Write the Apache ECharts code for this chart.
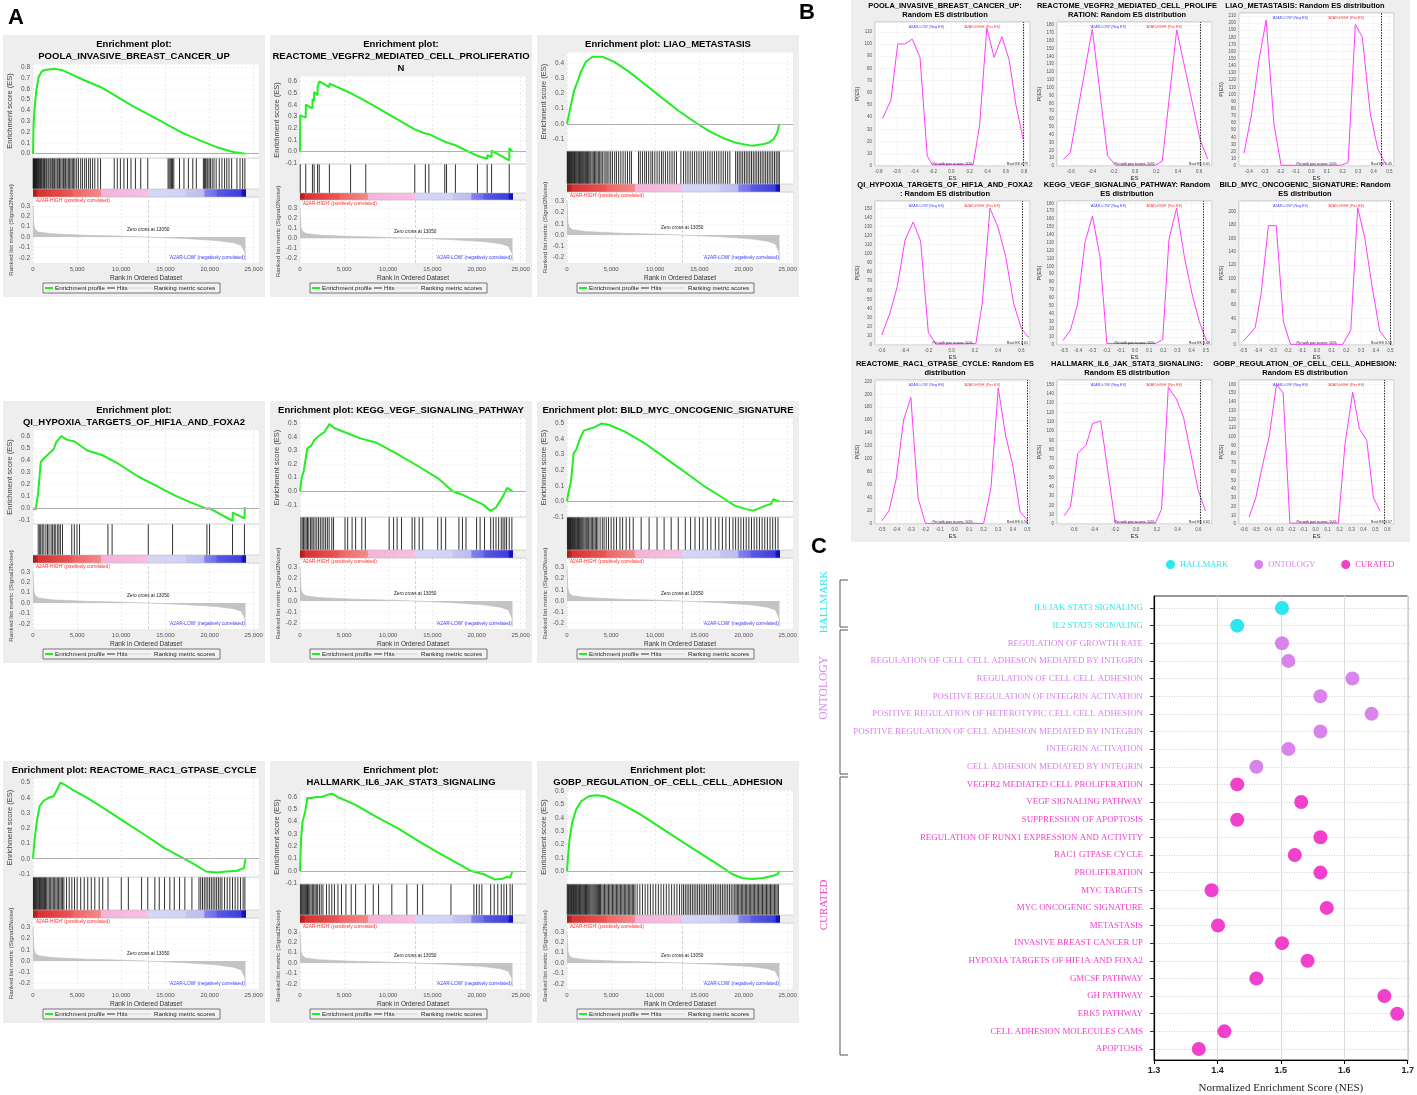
<!DOCTYPE html>
<html>
<head>
<meta charset="utf-8">
<script src="https://cdn.jsdelivr.net/npm/echarts@6/dist/echarts.min.js"></script>
<style>
html,body{margin:0;padding:0;background:#fff;}
#main{width:1417px;height:1095px;}
</style>
</head>
<body>
<div id="main"></div>
<script>
// ---------- panel A : enrichment plots (ranks, ES) ----------
const esPoola = [[0,0],[70,0.28],[190,0.43],[370,0.585],[640,0.71],[1000,0.763],[1380,0.775],[1750,0.78],[2500,0.785],[3250,0.775],[4000,0.748],[5870,0.677],[7700,0.615],[9600,0.523],[11500,0.43],[13300,0.354],[15200,0.268],[17100,0.185],[18900,0.123],[20800,0.06],[22700,0.015],[24070,0]];
const esVegfr2 = [[0,0],[30,0.31],[650,0.29],[660,0.40],[1410,0.37],[1420,0.45],[1600,0.43],[1610,0.51],[1990,0.48],[2000,0.55],[2180,0.54],[2190,0.60],[3330,0.55],[3340,0.58],[5730,0.50],[5740,0.505],[7450,0.43],[7460,0.44],[13000,0.19],[14200,0.155],[14210,0.165],[14600,0.15],[14610,0.16],[16400,0.085],[16410,0.09],[16600,0.085],[16610,0.09],[17600,0.055],[17610,0.06],[20100,-0.035],[20110,-0.02],[21200,-0.06],[21210,-0.03],[21700,-0.045],[21710,0.01],[23700,-0.075],[23710,0.03],[24070,0]];
const esLiao = [[0,0],[260,0.072],[530,0.149],[830,0.225],[1200,0.28],[1580,0.345],[2150,0.41],[2900,0.444],[4000,0.444],[5350,0.41],[7000,0.345],[8900,0.258],[10800,0.17],[12700,0.083],[14600,0.007],[16100,-0.048],[17600,-0.092],[19100,-0.125],[21000,-0.146],[22100,-0.136],[22850,-0.125],[23400,-0.103],[23800,-0.059],[24060,0]];
const esHypoxia = [[0,0],[300,-0.01],[590,0.133],[880,0.383],[1170,0.41],[1760,0.45],[2340,0.49],[2630,0.55],[3200,0.6],[3800,0.57],[4700,0.555],[6150,0.48],[7900,0.44],[9660,0.37],[12000,0.26],[13760,0.194],[16100,0.105],[17860,0.05],[19700,-0.005],[20000,0.0],[22600,-0.103],[22630,-0.035],[23950,-0.083],[24000,0.01]];
const esKegg = [[0,0],[180,0.097],[410,0.145],[590,0.217],[820,0.314],[1290,0.338],[1580,0.374],[2170,0.41],[2750,0.435],[3340,0.495],[3920,0.464],[5090,0.435],[6850,0.39],[8600,0.36],[10950,0.278],[13300,0.188],[15600,0.097],[17300,0.0],[18200,-0.02],[19500,-0.06],[20700,-0.097],[21600,-0.145],[22200,-0.12],[23000,-0.036],[23450,0.024],[24070,0.0]];
const esBild = [[0,0],[170,0.056],[460,0.13],[750,0.31],[1040,0.33],[1450,0.40],[1910,0.454],[2490,0.464],[3070,0.475],[3940,0.5],[4810,0.49],[6550,0.448],[8870,0.37],[11200,0.276],[13500,0.182],[15800,0.088],[17600,0.025],[19000,-0.027],[20200,-0.048],[21050,-0.059],[21600,-0.048],[22500,-0.027],[23100,-0.017],[23400,0.015],[23800,0.004],[24070,0.0]];
const esRac1 = [[0,0],[180,0.126],[410,0.236],[760,0.346],[1170,0.379],[1760,0.40],[2340,0.41],[2750,0.456],[3100,0.5],[3500,0.489],[4400,0.456],[6150,0.40],[7900,0.335],[10250,0.247],[12600,0.159],[14900,0.07],[17000,0.004],[18400,-0.04],[19600,-0.084],[20800,-0.09],[21950,-0.084],[23100,-0.079],[23900,-0.062],[24070,0.004]];
const esIl6 = [[0,0],[120,0.26],[290,0.4],[590,0.48],[820,0.59],[1290,0.59],[1870,0.598],[2460,0.598],[3040,0.614],[3630,0.625],[4500,0.59],[6260,0.537],[8600,0.44],[10950,0.35],[13300,0.248],[15600,0.15],[18000,0.055],[19400,0.0],[20900,-0.028],[22100,-0.069],[22950,-0.063],[23400,-0.047],[23800,-0.055],[24070,0.0]];
const esGobp = [[0,0],[120,0.117],[290,0.24],[580,0.365],[1040,0.464],[1620,0.526],[2490,0.563],[3360,0.57],[4230,0.563],[5970,0.514],[8300,0.427],[10600,0.328],[12900,0.228],[15250,0.129],[17600,0.03],[18700,-0.02],[19900,-0.052],[21050,-0.057],[22200,-0.05],[23400,-0.032],[23900,-0.02],[24070,0.005]];

// hit positions, thousands of ranks
const hitsPoola = [0.02,0.06,0.1,0.14,0.18,0.22,0.27,0.32,0.37,0.42,0.48,0.55,0.62,0.7,0.78,0.86,0.95,1.05,1.2,1.3,1.45,1.55,1.7,1.8,1.95,2.05,2.2,2.35,2.45,2.6,2.75,2.85,3.0,3.15,3.3,3.45,3.6,3.7,3.85,4.0,4.15,4.3,4.45,4.6,4.75,4.95,5.15,5.4,5.6,5.85,6.05,6.3,6.5,6.75,7.0,7.35,7.65,9.2,9.55,9.9,10.3,10.7,11.1,11.6,12.2,13.0,15.3,15.42,15.55,15.68,15.8,15.95,16.6,17.1,17.6,18.1,18.5,19.3,19.42,19.55,19.7,19.8,19.95,20.1,20.3,20.5,20.75,21.1,21.4,21.7,21.95,22.2,22.5,23.1,23.45,23.75,24.0];
const hitsVegfr2 = [0.03,0.65,1.41,1.6,1.99,2.18,3.33,5.73,7.45,13.0,14.2,14.6,16.4,16.6,17.6,20.1,21.2,21.7,23.7];
const hitsLiao = [0.03,0.08,0.13,0.19,0.25,0.31,0.38,0.45,0.52,0.6,0.68,0.76,0.85,0.94,1.03,1.12,1.22,1.32,1.42,1.52,1.63,1.74,1.85,1.96,2.08,2.2,2.32,2.45,2.58,2.7,2.84,2.98,3.12,3.26,3.4,3.55,3.7,3.85,4.0,4.2,4.4,4.55,4.75,4.95,5.15,5.4,5.6,5.85,6.1,6.35,6.6,6.85,7.1,7.3,8.1,8.3,8.55,8.8,9.0,9.25,9.5,9.7,9.95,10.2,10.45,10.7,10.9,11.15,11.4,11.65,11.9,12.15,12.4,12.9,13.2,13.45,13.7,13.95,14.2,14.45,14.7,14.95,15.2,15.45,15.7,15.95,16.2,16.45,16.7,16.95,17.2,17.45,17.7,17.95,18.2,18.45,19.1,19.3,19.5,19.7,19.9,20.1,20.3,20.5,20.7,20.9,21.1,21.3,21.5,21.7,21.9,22.1,22.3,22.5,22.7,22.9,23.1,23.3,23.5,23.7,23.9,24.05];
const hitsHypoxia = [0.59,0.76,0.88,1.05,1.23,1.46,1.64,1.81,2.05,2.22,2.4,2.52,2.75,2.93,3.1,3.34,4.39,4.68,4.98,5.27,8.49,8.96,13.06,15.81,19.7,20.0,22.6,23.95];
const hitsKegg = [0.1,0.25,0.4,0.55,0.7,0.85,1.0,1.2,1.35,1.5,1.7,1.9,2.1,2.3,2.5,2.7,2.9,3.1,3.3,3.6,3.8,5.1,5.4,5.9,6.3,7.0,7.4,10.1,10.6,11.0,11.5,12.7,13.0,13.5,13.9,15.6,16.0,16.5,18.0,18.4,18.8,20.0,20.4,20.9,21.6,21.9,22.2,22.5,22.8,23.0,23.2,23.4,23.7,24.0];
const hitsBild = [0.05,0.1,0.16,0.22,0.28,0.34,0.4,0.47,0.54,0.61,0.68,0.76,0.84,0.92,1.0,1.1,1.2,1.3,1.4,1.5,1.6,1.7,1.8,1.92,2.05,2.18,2.3,2.45,2.6,2.75,2.9,3.05,3.2,3.35,3.5,3.75,4.0,4.2,4.45,4.7,5.0,5.3,5.6,6.0,6.3,6.7,7.1,7.5,8.4,9.3,10.2,11.0,11.8,12.6,13.4,14.0,14.5,15.0,15.4,15.9,16.3,16.8,17.2,17.6,18.0,18.4,18.8,19.1,19.4,19.7,20.0,20.3,20.6,20.9,21.2,21.5,21.8,22.1,22.4,22.7,23.0,23.3,23.6,23.9];
const hitsRac1 = [0.05,0.1,0.16,0.22,0.3,0.38,0.46,0.55,0.64,0.74,0.84,0.95,1.06,1.18,1.3,1.42,1.55,1.7,1.85,2.0,2.15,2.3,2.45,2.6,2.75,2.9,3.05,3.2,3.35,3.5,3.8,4.1,4.4,4.7,5.0,5.4,5.8,6.2,6.6,7.0,7.5,7.9,8.5,10.0,10.8,12.3,13.0,13.8,14.3,14.9,15.5,16.0,16.6,17.2,18.0,18.8,19.0,19.2,19.4,19.6,19.8,20.0,20.2,20.4,20.6,20.8,21.0,21.2,21.4,21.7,22.0,22.3,22.6,22.9,23.2,23.5,23.8,24.0];
const hitsIl6 = [0.05,0.15,0.25,0.35,0.45,0.55,0.65,0.75,0.85,0.95,1.1,1.25,1.4,1.55,1.7,1.85,2.0,2.2,2.4,2.6,3.0,3.3,3.6,3.9,4.3,4.7,5.2,5.8,6.3,7.4,8.3,8.9,10.4,12.1,13.3,13.9,17.1,19.7,20.0,20.3,20.6,21.6,22.0,22.4,22.8,23.1,23.4,23.8,24.05];
const hitsGobp = [0.03,0.1,0.18,0.26,0.34,0.42,0.5,0.58,0.66,0.74,0.82,0.9,0.98,1.06,1.15,1.24,1.33,1.42,1.51,1.6,1.7,1.8,1.9,2.0,2.1,2.2,2.3,2.4,2.5,2.6,2.72,2.84,2.96,3.08,3.2,3.32,3.44,3.56,3.68,3.8,3.95,4.1,4.25,4.4,4.55,4.7,4.85,5.0,5.15,5.3,5.45,5.6,5.75,5.9,6.05,6.2,6.35,6.5,6.65,6.8,6.95,7.1,7.25,7.4,7.55,7.7,7.95,8.25,8.55,8.85,9.15,9.45,9.75,10.05,10.35,10.65,10.95,11.25,11.55,11.85,12.15,12.45,12.75,13.0,13.2,13.4,13.6,13.8,14.0,14.2,14.4,14.6,14.8,15.0,15.2,15.4,15.6,15.8,16.0,16.2,16.4,16.6,16.8,17.0,17.2,17.4,17.6,17.8,18.0,18.2,18.4,18.6,18.8,19.0,19.15,19.3,19.45,19.6,19.75,19.9,20.05,20.2,20.35,20.5,20.65,20.8,20.95,21.1,21.25,21.4,21.55,21.7,21.85,22.0,22.15,22.3,22.45,22.6,22.75,22.9,23.05,23.2,23.35,23.5,23.65,23.8,23.95];

// ranked list metric (shared by all plots) and heat bar breaks
const metricScores = [[0,0.3],[30,0.24],[110,0.11],[260,0.07],[640,0.048],[2130,0.031],[5870,0.017],[9600,0.009],[13050,0],[17100,-0.014],[20800,-0.034],[22700,-0.055],[23600,-0.08],[24000,-0.15],[24070,-0.23]];
const barStops = [0, 600, 4500, 7700, 13050, 17300, 19400, 20800, 23600, 24070];
const zeroCross = 13050;
const rankTicks = [0, 5000, 10000, 15000, 20000, 25000];

const titlesA = [
  ['Enrichment plot:', 'POOLA_INVASIVE_BREAST_CANCER_UP'],
  ['Enrichment plot:', 'REACTOME_VEGFR2_MEDIATED_CELL_PROLIFERATIO', 'N'],
  ['Enrichment plot: LIAO_METASTASIS'],
  ['Enrichment plot:', 'QI_HYPOXIA_TARGETS_OF_HIF1A_AND_FOXA2'],
  ['Enrichment plot: KEGG_VEGF_SIGNALING_PATHWAY'],
  ['Enrichment plot: BILD_MYC_ONCOGENIC_SIGNATURE'],
  ['Enrichment plot: REACTOME_RAC1_GTPASE_CYCLE'],
  ['Enrichment plot:', 'HALLMARK_IL6_JAK_STAT3_SIGNALING'],
  ['Enrichment plot:', 'GOBP_REGULATION_OF_CELL_CELL_ADHESION']
];
const esCurves = [esPoola, esVegfr2, esLiao, esHypoxia, esKegg, esBild, esRac1, esIl6, esGobp];
const hitLists = [hitsPoola, hitsVegfr2, hitsLiao, hitsHypoxia, hitsKegg, hitsBild, hitsRac1, hitsIl6, hitsGobp];
const esMin = [-0.04, -0.105, -0.18, -0.13, -0.19, -0.10, -0.12, -0.105, -0.095];
const esMax = [0.83, 0.645, 0.475, 0.65, 0.54, 0.535, 0.53, 0.655, 0.61];

// ---------- panel B : random ES distributions (ES, P(ES)) ----------
const nullPoola = [[-0.756,39],[-0.665,54],[-0.59,100],[-0.51,100],[-0.43,104],[-0.345,89],[-0.265,8],[-0.21,1],[0.24,1],[0.31,33],[0.39,113],[0.47,89],[0.556,106],[0.636,87],[0.71,50],[0.79,22]];
const nullVegfr2 = [[-0.67,8.5],[-0.606,17],[-0.40,175],[-0.257,13],[-0.18,1],[0.19,1],[0.255,6],[0.39,174],[0.61,33],[0.68,9]];
const nullLiao = [[-0.432,18],[-0.383,73],[-0.336,148],[-0.29,204],[-0.24,59],[-0.194,1],[0.193,1],[0.236,5],[0.282,198],[0.327,180],[0.378,73],[0.426,24],[0.475,3]];
const nullHypoxia = [[-0.6,11],[-0.53,35],[-0.465,65],[-0.4,115],[-0.33,135],[-0.266,114],[-0.2,14],[-0.135,1],[0.209,1.5],[0.263,45],[0.33,150],[0.40,129],[0.465,97],[0.535,45],[0.6,18],[0.664,8]];
const nullKegg = [[-0.507,6],[-0.455,19],[-0.405,52],[-0.353,130],[-0.3,164],[-0.247,113],[-0.198,2],[0.15,2],[0.196,7],[0.24,134],[0.294,174],[0.35,111],[0.402,66],[0.454,30],[0.505,5]];
const nullBild = [[-0.5,6],[-0.42,26],[-0.38,76],[-0.33,179],[-0.277,179],[-0.228,35],[-0.18,1],[0.175,1],[0.23,22],[0.277,206],[0.325,161],[0.374,89],[0.427,21],[0.476,7]];
const nullRac1 = [[-0.5,5],[-0.45,20],[-0.4,70],[-0.35,160],[-0.3,195],[-0.25,40],[-0.2,1],[0.2,1],[0.25,56],[0.3,210],[0.35,137],[0.4,90],[0.45,19],[0.5,6]];
const nullIl6 = [[-0.69,9],[-0.63,19],[-0.56,76],[-0.48,85],[-0.418,108],[-0.34,111],[-0.27,56],[-0.2,1],[0.186,1],[0.245,16],[0.31,147],[0.386,135],[0.456,115],[0.526,76],[0.596,37],[0.667,14]];
const nullGobp = [[-0.555,8],[-0.5,30],[-0.444,67],[-0.388,100],[-0.327,160],[-0.271,150],[-0.215,1],[0.19,1],[0.246,92],[0.31,151],[0.366,109],[0.427,96],[0.483,30],[0.539,15]];

const titlesB = [
  ['POOLA_INVASIVE_BREAST_CANCER_UP:', 'Random ES distribution'],
  ['REACTOME_VEGFR2_MEDIATED_CELL_PROLIFE', 'RATION: Random ES distribution'],
  ['LIAO_METASTASIS: Random ES distribution'],
  ['QI_HYPOXIA_TARGETS_OF_HIF1A_AND_FOXA2', ': Random ES distribution'],
  ['KEGG_VEGF_SIGNALING_PATHWAY: Random', 'ES distribution'],
  ['BILD_MYC_ONCOGENIC_SIGNATURE: Random', 'ES distribution'],
  ['REACTOME_RAC1_GTPASE_CYCLE: Random ES', 'distribution'],
  ['HALLMARK_IL6_JAK_STAT3_SIGNALING:', 'Random ES distribution'],
  ['GOBP_REGULATION_OF_CELL_CELL_ADHESION:', 'Random ES distribution']
];
const nullCurves = [nullPoola, nullVegfr2, nullLiao, nullHypoxia, nullKegg, nullBild, nullRac1, nullIl6, nullGobp];
const realEs = [0.79, 0.615, 0.453, 0.61, 0.48, 0.5, 0.497, 0.624, 0.573];
const nullXMin = [-0.84, -0.73, -0.464, -0.658, -0.55, -0.53, -0.546, -0.76, -0.64];
const nullXMax = [0.865, 0.72, 0.53, 0.674, 0.544, 0.524, 0.518, 0.73, 0.655];
const nullXStep = [0.2, 0.2, 0.1, 0.2, 0.1, 0.1, 0.1, 0.2, 0.1];
const nullYMax = [118, 184, 214, 158, 183, 216, 222, 155, 165];
const nullYStep = [10, 10, 10, 10, 10, 20, 20, 10, 10];

// ---------- panel C : NES dot plot ----------
const cTerms = ['IL6 JAK STAT3 SIGNALING','IL2 STAT5 SIGNALING','REGULATION OF GROWTH RATE','REGULATION OF CELL CELL ADHESION MEDIATED BY INTEGRIN','REGULATION OF CELL CELL ADHESION','POSITIVE REGULATION OF INTEGRIN ACTIVATION','POSITIVE REGULATION OF HETEROTYPIC CELL CELL ADHESION','POSITIVE REGULATION OF CELL ADHESION MEDIATED BY INTEGRIN','INTEGRIN ACTIVATION','CELL ADHESION MEDIATED BY INTEGRIN','VEGFR2 MEDIATED CELL PROLIFERATION','VEGF SIGNALING PATHWAY','SUPPRESSION OF APOPTOSIS','REGULATION OF RUNX1 EXPRESSION AND ACTIVITY','RAC1 GTPASE CYCLE','PROLIFERATION','MYC TARGETS','MYC ONCOGENIC SIGNATURE','METASTASIS','INVASIVE BREAST CANCER UP','HYPOXIA TARGETS OF HIF1A AND FOXA2','GMCSF PATHWAY','GH PATHWAY','ERK5 PATHWAY','CELL ADHESION MOLECULES CAMS','APOPTOSIS'];
const cNes = [1.50,1.43,1.50,1.51,1.61,1.56,1.64,1.56,1.51,1.46,1.43,1.53,1.43,1.56,1.52,1.56,1.39,1.57,1.40,1.50,1.54,1.46,1.66,1.68,1.41,1.37];
const cGroup = ['HALLMARK','HALLMARK','ONTOLOGY','ONTOLOGY','ONTOLOGY','ONTOLOGY','ONTOLOGY','ONTOLOGY','ONTOLOGY','ONTOLOGY','CURATED','CURATED','CURATED','CURATED','CURATED','CURATED','CURATED','CURATED','CURATED','CURATED','CURATED','CURATED','CURATED','CURATED','CURATED','CURATED'];
const groupNames = ['HALLMARK', 'ONTOLOGY', 'CURATED'];
const nesTicks = [1.3, 1.4, 1.5, 1.6, 1.7];

// ---------- layout / style ----------
const SANS = '"Liberation Sans", Arial, sans-serif';
const SERIF = '"Liberation Serif", "Times New Roman", serif';
const A_COLS = [3, 270, 537];
const A_ROWS = [35, 401, 761];
const RANK_MAX = 25600;
const B_LEFT = [875, 1057, 1239];
const B_BOTTOM = [166, 345, 524];
const B_W = 155;
const GROUP_COLORS = {HALLMARK: '#2ee6ee', ONTOLOGY: '#d884ec', CURATED: '#f040cc'};
const BAR_COLORS = [['#a81818','#d02828'],['#d83030','#ec5858'],['#ee6464','#f38a8a'],['#f6b2da','#f7c0e2'],
  ['#d6d6f8','#d2d2f6'],['#c6c6f4','#bcbcf2'],['#8484ee','#6c6cec'],['#5a5ae6','#3c3cdc'],['#1818c8','#0c0cc0']];

const grids = [], xAxes = [], yAxes = [], series = [], gfx = [];

function isStep(v, s) { return Math.abs(v / s - Math.round(v / s)) < 1e-6; }
function addGrid(g, xa, ya) {
  const i = grids.length;
  grids.push(Object.assign({containLabel: false}, g));
  xAxes.push(Object.assign({gridIndex: i}, xa));
  yAxes.push(Object.assign({gridIndex: i}, ya));
  return i;
}
function txt(x, y, s, font, fill, align, extra) {
  gfx.push(Object.assign({type: 'text', x: x, y: y, z: 50, silent: true,
    style: {text: s, font: font, fill: fill, align: align || 'left', verticalAlign: 'middle'}}, extra || {}));
}
function hline(x1, y1, x2, y2, stroke, w, dash) {
  gfx.push({type: 'line', z: 50, silent: true, shape: {x1: x1, y1: y1, x2: x2, y2: y2},
    style: {stroke: stroke, lineWidth: w, lineDash: dash || null}});
}
const hidden = {show: false};
const noLine = {show: false, onZero: false};
const rankSplit = {show: true, lineStyle: {color: '#e2e2e2', width: 0.6, type: [2, 2]}};

function rankAxis(labels, split) {
  const a = {type: 'value', min: 0, max: RANK_MAX, interval: 5000,
    axisLine: noLine, axisTick: hidden, splitLine: split ? rankSplit : hidden, axisLabel: hidden};
  if (labels) {
    a.axisLabel = {show: true, margin: 3, color: '#555', fontFamily: SANS, fontSize: 6,
      formatter: v => rankTicks.indexOf(v) >= 0 ? v.toLocaleString('en-US') : ''};
    a.name = 'Rank in Ordered Dataset';
    a.nameLocation = 'middle';
    a.nameGap = 12;
    a.nameTextStyle = {color: '#333', fontFamily: SANS, fontSize: 6.5};
  }
  return a;
}
function tenthAxis(min, max, name, nameSize) {
  return {type: 'value', min: min, max: max, minInterval: 0.1, maxInterval: 0.1,
    axisLine: noLine, axisTick: hidden,
    splitLine: {show: true, lineStyle: {color: '#ececec', width: 0.6, type: [2, 2]}},
    axisLabel: {margin: 3, color: '#555', fontFamily: SANS, fontSize: 6.5,
      formatter: v => isStep(v, 0.1) ? (Math.round(v * 10) / 10).toFixed(1) : ''},
    name: name, nameLocation: 'middle', nameGap: 19,
    nameTextStyle: {color: '#444', fontFamily: SANS, fontSize: nameSize}};
}

// ---------- panel A ----------
function drawGsea(k) {
  const x0 = A_COLS[k % 3], y0 = A_ROWS[Math.floor(k / 3)];
  const title = titlesA[k], n = title.length;
  const left = x0 + 30, width = 226;
  const esTop = y0 + 5 + 12 * n, bottom = y0 + 228;
  const H = bottom - esTop;
  const esH = Math.round(H * 0.47), hitH = Math.round(H * 0.155), barH = Math.round(H * 0.04);
  const hitTop = esTop + esH, barTop = hitTop + hitH, metTop = barTop + barH, metH = bottom - metTop;
  const pxX = r => left + r / RANK_MAX * width;
  const metMin = -0.25, metMax = 0.385;
  const pxMet = v => metTop + (metMax - v) / (metMax - metMin) * metH;

  gfx.push({type: 'rect', z: -1, silent: true, shape: {x: x0, y: y0, width: 262, height: 262}, style: {fill: '#eeeeee'}});
  title.forEach((t, i) => txt(x0 + 131, y0 + 9 + 12 * i, t, 'bold 9.5px ' + SANS, '#000', 'center'));

  const white = {show: true, backgroundColor: '#fff', borderWidth: 0};
  const gEs = addGrid(Object.assign({left: left, top: esTop, width: width, height: esH}, white),
    rankAxis(false, true), tenthAxis(esMin[k], esMax[k], 'Enrichment score (ES)', 7.5));
  series.push({type: 'line', xAxisIndex: gEs, yAxisIndex: gEs, data: esCurves[k], symbol: 'none', z: 4,
    lineStyle: {color: '#22ee22', width: 2},
    markLine: {silent: true, symbol: 'none', label: {show: false}, data: [{yAxis: 0}],
      lineStyle: {color: '#b0b0b0', type: 'solid', width: 1}}});

  const gHit = addGrid(Object.assign({left: left, top: hitTop, width: width, height: hitH}, white),
    rankAxis(false, false), {type: 'value', min: 0, max: 1, show: false});
  series.push({type: 'custom', xAxisIndex: gHit, yAxisIndex: gHit, silent: true,
    data: hitLists[k].map(h => [h * 1000, 0]),
    renderItem: (params, api) => {
      const a = api.coord([api.value(0), 0]), b = api.coord([api.value(0), 1]);
      return {type: 'line', shape: {x1: a[0], y1: a[1], x2: a[0], y2: b[1]}, style: {stroke: '#1a1a1a', lineWidth: 0.9}};
    }});
  hline(left, hitTop, left + width, hitTop, '#c8c8c8', 0.8);

  const gBar = addGrid({left: left, top: barTop, width: width, height: barH},
    rankAxis(false, false), {type: 'value', min: 0, max: 1, show: false});
  series.push({type: 'custom', xAxisIndex: gBar, yAxisIndex: gBar, silent: true,
    data: barStops.slice(0, -1).map((s, i) => [s, barStops[i + 1], i]),
    renderItem: (params, api) => {
      const a = api.coord([api.value(0), 1]), b = api.coord([api.value(1), 0]);
      const c = BAR_COLORS[api.value(2)];
      return {type: 'rect', shape: {x: a[0], y: a[1], width: b[0] - a[0] + 0.5, height: b[1] - a[1]},
        style: {fill: new echarts.graphic.LinearGradient(0, 0, 1, 0, [{offset: 0, color: c[0]}, {offset: 1, color: c[1]}])}};
    }});
  hline(left, barTop, left + width, barTop, '#bdbdbd', 0.6);
  hline(left, barTop + barH, left + width, barTop + barH, '#bdbdbd', 0.6);

  const gMet = addGrid(Object.assign({left: left, top: metTop, width: width, height: metH}, white),
    rankAxis(true, true), tenthAxis(metMin, metMax, 'Ranked list metric (Signal2Noise)', 6.2));
  series.push({type: 'line', xAxisIndex: gMet, yAxisIndex: gMet, data: metricScores, symbol: 'none', z: 3,
    lineStyle: {color: '#bdbdbd', width: 0.6}, areaStyle: {color: '#c4c4c4', opacity: 1},
    markLine: {silent: true, symbol: 'none', label: {show: false}, data: [{xAxis: zeroCross}],
      lineStyle: {color: '#b4b4b4', type: [3, 2], width: 0.6}}});

  txt(left + 2, metTop + 4, "'A2AR-HIGH' (positively correlated)", '4.8px ' + SANS, '#ff2a2a');
  txt(pxX(zeroCross), pxMet(0.07), 'Zero cross at 13050', '4.8px ' + SANS, '#222', 'center');
  txt(pxX(24000), pxMet(-0.2), "'A2AR-LOW' (negatively correlated)", '4.8px ' + SANS, '#3b3bff', 'right');

  // legend box
  const ly = y0 + 253;
  gfx.push({type: 'rect', z: 49, silent: true, shape: {x: x0 + 40, y: y0 + 248, width: 177, height: 10},
    style: {fill: '#f2f2f2', stroke: '#555', lineWidth: 0.8}});
  hline(x0 + 42, ly, x0 + 50, ly, '#22ee22', 2);
  txt(x0 + 52, ly, 'Enrichment profile', '6.2px ' + SANS, '#222');
  hline(x0 + 104, ly, x0 + 112, ly, '#333', 1);
  txt(x0 + 114, ly, 'Hits', '6.2px ' + SANS, '#222');
  hline(x0 + 125, ly, x0 + 148, ly, '#d4d4d4', 1);
  txt(x0 + 151, ly, 'Ranking metric scores', '6.2px ' + SANS, '#222');
}

// ---------- panel B ----------
function drawNull(k) {
  const col = k % 3, row = Math.floor(k / 3);
  const left = B_LEFT[col], bottom = B_BOTTOM[row];
  const n = titlesB[k].length;
  const top = n === 1 ? bottom - 153 : bottom - 144;
  const h = bottom - top, step = nullXStep[k], ys = nullYStep[k];
  const cx = [945, 1127, 1305][col];
  titlesB[k].forEach((t, j) => txt(cx, top - 7 - 9 * (n - 1 - j), t, 'bold 7.5px ' + SANS, '#000', 'center'));

  const bSplit = {show: true, lineStyle: {color: '#f0f0f0', width: 0.6, type: 'solid'}};
  const g = addGrid({left: left, top: top, width: B_W, height: h, show: true, backgroundColor: '#fff', borderColor: '#b0b0b0', borderWidth: 0.8},
    {type: 'value', position: 'bottom', min: nullXMin[k], max: nullXMax[k], minInterval: step, maxInterval: step,
      axisLine: noLine, axisTick: hidden, splitLine: bSplit,
      axisLabel: {margin: 3, color: '#555', fontFamily: SANS, fontSize: 4.5,
        formatter: v => isStep(v, step) ? (Math.round(v * 10) / 10).toFixed(1) : ''},
      name: 'ES', nameLocation: 'middle', nameGap: 9, nameTextStyle: {color: '#333', fontFamily: SANS, fontSize: 6}},
    {type: 'value', position: 'left', min: 0, max: nullYMax[k], interval: ys,
      axisLine: noLine, axisTick: hidden, splitLine: bSplit,
      axisLabel: {margin: 3, color: '#555', fontFamily: SANS, fontSize: 4.5,
        formatter: v => isStep(v, ys) ? String(Math.round(v)) : ''},
      name: 'P(ES)', nameLocation: 'middle', nameGap: 12, nameTextStyle: {color: '#333', fontFamily: SANS, fontSize: 5.5}});
  series.push({type: 'line', xAxisIndex: g, yAxisIndex: g, data: nullCurves[k], symbol: 'none', z: 4,
    lineStyle: {color: '#ff3cff', width: 1},
    markLine: {silent: true, symbol: 'none', label: {show: false}, data: [{xAxis: realEs[k]}],
      lineStyle: {color: '#111', type: [1.5, 1.2], width: 0.9}}});

  txt(left + B_W * 0.33, top + 5, "'A2AR-LOW' (Neg ES)", '3.6px ' + SANS, '#4444ff', 'center');
  txt(left + B_W * 0.69, top + 5, "'A2AR-HIGH' (Pos ES)", '3.6px ' + SANS, '#ff3333', 'center');
  txt(left + B_W * 0.5, bottom - 2.5, 'Pct with pos scores: 50%', '3.6px ' + SANS, '#222', 'center');
  txt(left + B_W - 2, bottom - 2.5, 'Real ES ' + realEs[k].toFixed(2), '3.6px ' + SANS, '#222', 'right');
}

gfx.push({type: 'rect', z: -1, silent: true, shape: {x: 851, y: 0, width: 559, height: 542}, style: {fill: '#eeeeee'}});
for (let k = 0; k < 9; k++) { drawGsea(k); drawNull(k); }

// ---------- panel C ----------
const gFrame = addGrid({left: 1154, top: 596, width: 256, height: 466, show: true, borderColor: '#333', borderWidth: 1},
  {type: 'value', min: 1.3, max: 1.7, interval: 0.1,
    axisLine: {show: true, onZero: false, lineStyle: {color: '#000', width: 1.2}},
    axisTick: {show: true, length: 4, lineStyle: {color: '#000'}},
    splitLine: {show: true, lineStyle: {color: '#dcdcdc', width: 1}},
    axisLabel: {margin: 6, color: '#222', fontFamily: SANS, fontWeight: 'bold', fontSize: 9,
      formatter: v => nesTicks.some(t => Math.abs(t - v) < 1e-6) ? v.toFixed(1) : ''},
    name: 'Normalized Enrichment Score (NES)', nameLocation: 'middle', nameGap: 23,
    nameTextStyle: {color: '#222', fontFamily: SERIF, fontSize: 11}},
  {type: 'value', min: 0, max: 1, axisLabel: hidden, axisTick: hidden, splitLine: hidden,
    axisLine: {show: true, onZero: false, lineStyle: {color: '#000', width: 1.2}}});
const gDots = addGrid({left: 1154, top: 608, width: 256, height: 441},
  {type: 'value', min: 1.3, max: 1.7, show: false, splitLine: hidden},
  {type: 'category', data: cTerms, inverse: true, boundaryGap: false,
    axisLine: noLine, axisTick: {show: true, length: 4, lineStyle: {color: '#333'}},
    splitLine: {show: true, lineStyle: {color: '#c4c4c4', type: [1, 1.5], width: 0.8}},
    axisLabel: {margin: 11, fontFamily: SERIF, fontSize: 8.9, color: (v, i) => GROUP_COLORS[cGroup[i]]}});
groupNames.forEach(gn => {
  series.push({type: 'scatter', name: gn, xAxisIndex: gDots, yAxisIndex: gDots, symbolSize: 14, z: 5,
    itemStyle: {color: GROUP_COLORS[gn], opacity: 1},
    data: cTerms.map((t, i) => cGroup[i] === gn ? [cNes[i], t] : null).filter(d => d)});
});

// group brackets
[['HALLMARK', 580, 627], ['ONTOLOGY', 630, 774], ['CURATED', 777, 1055]].forEach(b => {
  hline(840, b[1], 840, b[2], '#555', 1);
  hline(840, b[1], 848, b[1], '#555', 1);
  hline(840, b[2], 848, b[2], '#555', 1);
});
txt(824, 602, 'HALLMARK', '11px ' + SERIF, GROUP_COLORS.HALLMARK, 'center', {rotation: Math.PI / 2});
txt(824, 688, 'ONTOLOGY', '11.5px ' + SERIF, GROUP_COLORS.ONTOLOGY, 'center', {rotation: Math.PI / 2});
txt(824, 905, 'CURATED', '11px ' + SERIF, GROUP_COLORS.CURATED, 'center', {rotation: Math.PI / 2});

// panel letters
txt(8, 18, 'A', 'bold 22px ' + SANS, '#000');
txt(799, 13, 'B', 'bold 22px ' + SANS, '#000');
txt(811, 547, 'C', 'bold 22px ' + SANS, '#000');

const chart = echarts.init(document.getElementById('main'), null, {renderer: 'canvas'});
chart.setOption({
  animation: false,
  backgroundColor: '#fff',
  grid: grids,
  xAxis: xAxes,
  yAxis: yAxes,
  legend: {left: 1161, top: 555, itemGap: 26, itemWidth: 9, itemHeight: 9, icon: 'circle',
    textStyle: {fontFamily: SERIF, fontSize: 8.5},
    data: groupNames.map(gn => ({name: gn, textStyle: {color: GROUP_COLORS[gn]}}))},
  graphic: {elements: gfx},
  series: series
});
</script>
</body>
</html>
